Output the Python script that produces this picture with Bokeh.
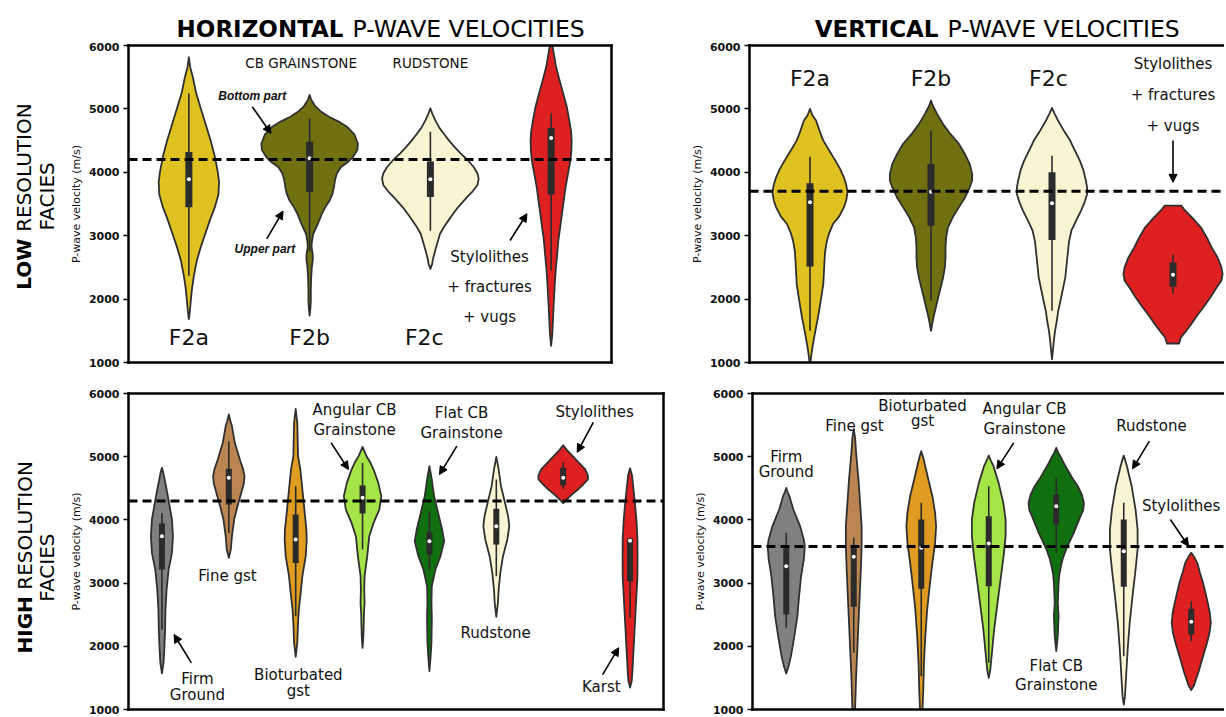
import math
from bokeh.plotting import figure
from bokeh.models import Range1d, LinearAxis, FixedTicker, Span, Label, Arrow, NormalHead
from bokeh.layouts import column, row
from bokeh.embed import file_html
from bokeh.resources import INLINE
from bokeh.core.properties import value

# ------------------------------------------------------------------ data
Y_TICKS = [1000, 2000, 3000, 4000, 5000, 6000]
Y_LABEL = "P-wave velocity (m/s)"

# Horizontal velocities, low-resolution facies
HL_CATS = ["F2a", "F2b", "F2c", "Stylolithes + fractures + vugs"]
HL_COLORS = ["#DFC120", "#707010", "#F9F5D3", "#DF2020"]
HL_SHAPES = [
    [(5815, 0), (5650, 0.012), (5500, 0.033), (5250, 0.06), (5000, 0.10), (4750, 0.14), (4500, 0.18),
     (4250, 0.215), (4000, 0.24), (3850, 0.25), (3650, 0.245), (3450, 0.215), (3250, 0.175), (3000, 0.13),
     (2800, 0.095), (2600, 0.065), (2350, 0.04), (2150, 0.025), (1950, 0.015), (1800, 0.008), (1685, 0)],
    [(5220, 0), (5150, 0.012), (5035, 0.05), (4950, 0.10), (4877, 0.16), (4800, 0.24), (4718, 0.31),
     (4600, 0.37), (4450, 0.40), (4350, 0.395), (4244, 0.36), (4150, 0.31), (4085, 0.26), (3980, 0.225),
     (3874, 0.21), (3750, 0.20), (3663, 0.19), (3550, 0.165), (3452, 0.13), (3340, 0.10), (3242, 0.08),
     (3130, 0.055), (3030, 0.03), (2900, 0.018), (2820, 0.016), (2700, 0.026), (2610, 0.026), (2500, 0.018),
     (2345, 0.013), (2150, 0.01), (1976, 0.01), (1850, 0.006), (1740, 0)],
    [(5008, 0), (4930, 0.015), (4824, 0.04), (4700, 0.075), (4613, 0.11), (4500, 0.155), (4400, 0.20),
     (4300, 0.25), (4190, 0.31), (4080, 0.36), (3980, 0.39), (3900, 0.40), (3800, 0.39), (3700, 0.35),
     (3600, 0.30), (3452, 0.23), (3350, 0.19), (3242, 0.15), (3130, 0.11), (3030, 0.08), (2900, 0.06),
     (2767, 0.04), (2620, 0.02), (2555, 0.015), (2477, 0)],
    [(6100, 0), (5900, 0.02), (5668, 0.04), (5450, 0.07), (5245, 0.10), (5030, 0.13), (4824, 0.15),
     (4650, 0.165), (4507, 0.17), (4350, 0.168), (4190, 0.16), (3980, 0.14), (3770, 0.12), (3560, 0.105),
     (3347, 0.09), (3130, 0.075), (2925, 0.06), (2700, 0.05), (2503, 0.04), (2290, 0.032), (2081, 0.026),
     (1870, 0.02), (1660, 0.015), (1450, 0.01), (1263, 0)],
]
HL_WLO = [2370, 2750, 3080, 2450]
HL_Q1 = [3450, 3690, 3610, 3650]
HL_MED = [3890, 4220, 3890, 4540]
HL_Q3 = [4320, 4480, 4170, 4700]
HL_WHI = [5245, 4850, 4640, 4930]
HL_MEAN = 4200

# Vertical velocities, low-resolution facies
VL_CATS = ["F2a", "F2b", "F2c", "Stylolithes + fractures + vugs"]
VL_COLORS = ["#DFC120", "#707010", "#F9F5D3", "#DF2020"]
VL_SHAPES = [
    [(5000, 0), (4900, 0.02), (4816, 0.05), (4650, 0.08), (4500, 0.11), (4340, 0.16), (4184, 0.21),
     (4050, 0.25), (3921, 0.28), (3800, 0.30), (3684, 0.31), (3560, 0.30), (3447, 0.28), (3300, 0.24),
     (3184, 0.19), (3050, 0.16), (2921, 0.14), (2750, 0.125), (2605, 0.12), (2420, 0.115), (2237, 0.11),
     (2050, 0.095), (1868, 0.08), (1700, 0.065), (1553, 0.05), (1400, 0.035), (1237, 0.02), (1100, 0.01),
     (950, 0)],
    [(5132, 0), (5050, 0.015), (4921, 0.05), (4760, 0.10), (4605, 0.16), (4450, 0.23), (4289, 0.28),
     (4130, 0.32), (3974, 0.34), (3870, 0.34), (3763, 0.32), (3600, 0.28), (3447, 0.23), (3290, 0.18),
     (3132, 0.14), (2970, 0.125), (2816, 0.12), (2650, 0.12), (2500, 0.115), (2340, 0.10), (2184, 0.08),
     (2030, 0.06), (1868, 0.04), (1750, 0.025), (1658, 0.015), (1500, 0)],
    [(5016, 0), (4930, 0.02), (4816, 0.05), (4650, 0.10), (4500, 0.15), (4340, 0.19), (4184, 0.23),
     (4030, 0.26), (3868, 0.28), (3760, 0.29), (3658, 0.29), (3530, 0.27), (3395, 0.24), (3240, 0.20),
     (3079, 0.16), (2900, 0.14), (2711, 0.13), (2530, 0.12), (2342, 0.11), (2160, 0.09), (1974, 0.07),
     (1800, 0.05), (1658, 0.04), (1500, 0.025), (1342, 0.015), (1200, 0.008), (1053, 0)],
    [(3474, 0.07), (3420, 0.09), (3342, 0.13), (3240, 0.18), (3132, 0.23), (2970, 0.28), (2816, 0.32),
     (2650, 0.37), (2500, 0.40), (2395, 0.41), (2290, 0.40), (2184, 0.36), (2030, 0.31), (1868, 0.25),
     (1740, 0.20), (1605, 0.15), (1500, 0.11), (1395, 0.065), (1300, 0.05)],
]
VL_WLO = [1500, 1974, 1816, 2079]
VL_Q1 = [2516, 3158, 2932, 2195]
VL_MED = [3526, 3695, 3510, 2384]
VL_Q3 = [3826, 4132, 4000, 2579]
VL_WHI = [4247, 4658, 4263, 2700]
VL_MEAN = 3700

# Horizontal velocities, high-resolution facies
HH_CATS = ["Firm Ground", "Fine gst", "Bioturbated gst", "Angular CB Grainstone",
           "Flat CB Grainstone", "Rudstone", "Stylolithes", "Karst"]
HH_COLORS = ["#808080", "#BB8551", "#DF9C20", "#A5E446", "#107010", "#F9F5D3", "#DF2020", "#DF2020"]
HH_SHAPES = [
    [(4824, 0), (4750, 0.02), (4692, 0.03), (4481, 0.07), (4270, 0.106), (4006, 0.15), (3742, 0.165),
     (3479, 0.15), (3215, 0.10), (2899, 0.07), (2582, 0.053), (2266, 0.047), (1949, 0.035), (1738, 0.024),
     (1570, 0)],
    [(5668, 0), (5560, 0.025), (5485, 0.047), (5220, 0.09), (4956, 0.165), (4800, 0.215), (4692, 0.235),
     (4581, 0.225), (4481, 0.20), (4217, 0.13), (4006, 0.08), (3742, 0.047), (3532, 0.03), (3400, 0)],
    [(5757, 0), (5536, 0.024), (5008, 0.035), (4797, 0.07), (4481, 0.10), (4164, 0.13), (3848, 0.16),
     (3690, 0.165), (3426, 0.15), (3110, 0.10), (2793, 0.07), (2582, 0.047), (2371, 0.035), (2055, 0.024),
     (1833, 0)],
    [(5156, 0), (5080, 0.03), (5008, 0.06), (4900, 0.12), (4797, 0.165), (4586, 0.235), (4375, 0.28),
     (4164, 0.25), (3953, 0.165), (3742, 0.10), (3426, 0.07), (3110, 0.03), (2900, 0.025), (2687, 0.03),
     (2500, 0.02), (2371, 0.018), (2150, 0.012), (1976, 0)],
    [(4850, 0), (4639, 0.035), (4375, 0.07), (4111, 0.13), (3848, 0.19), (3663, 0.22), (3426, 0.165),
     (3215, 0.09), (2951, 0.035), (2687, 0.03), (2500, 0.035), (2371, 0.035), (2055, 0.03), (1844, 0.018),
     (1606, 0)],
    [(4998, 0), (4797, 0.035), (4533, 0.07), (4270, 0.13), (4059, 0.176), (3901, 0.194), (3690, 0.165),
     (3426, 0.10), (3162, 0.06), (2899, 0.035), (2687, 0.024), (2466, 0)],
    [(5180, 0), (5100, 0.06), (5000, 0.15), (4900, 0.24), (4800, 0.33), (4700, 0.37), (4640, 0.37),
     (4560, 0.30), (4480, 0.22), (4400, 0.13), (4320, 0.05), (4265, 0)],
    [(4817, 0), (4700, 0.03), (4596, 0.04), (4300, 0.07), (4000, 0.095), (3700, 0.11), (3400, 0.112),
     (3100, 0.11), (2800, 0.095), (2500, 0.08), (2200, 0.065), (1900, 0.05), (1600, 0.035), (1450, 0.025),
     (1347, 0)],
]
HH_WLO = [2266, 3795, 2477, 3532, 3215, 3110, 4491, 2451]
HH_Q1 = [3215, 4244, 3320, 4101, 3453, 3610, 4544, 3024]
HH_MED = [3742, 4666, 3690, 4349, 3663, 3901, 4666, 3670]
HH_Q3 = [3943, 4808, 4085, 4544, 3806, 4175, 4824, 3710]
HH_WHI = [4111, 5246, 4533, 4900, 4138, 4639, 4914, 3720]
HH_MEAN = 4300

# Vertical velocities, high-resolution facies
VH_CATS = ["Firm Ground", "Fine gst", "Bioturbated gst", "Angular CB Grainstone",
           "Flat CB Grainstone", "Rudstone", "Stylolithes"]
VH_COLORS = ["#808080", "#BB8551", "#DF9C20", "#A5E446", "#107010", "#F9F5D3", "#DF2020"]
VH_SHAPES = [
    [(4507, 0), (4440, 0.02), (4375, 0.047), (4164, 0.105), (3901, 0.205), (3690, 0.26), (3584, 0.275),
     (3373, 0.26), (3110, 0.22), (2793, 0.19), (2477, 0.165), (2160, 0.12), (1844, 0.07), (1686, 0.035),
     (1570, 0)],
    [(5441, 0), (5300, 0.02), (5061, 0.035), (4639, 0.07), (4270, 0.094), (3901, 0.117), (3584, 0.117),
     (3215, 0.105), (2793, 0.088), (2371, 0.07), (1949, 0.053), (1527, 0.035), (1105, 0.023), (900, 0.015)],
    [(5087, 0), (5000, 0.025), (4903, 0.047), (4639, 0.105), (4375, 0.165), (4111, 0.205), (3901, 0.22),
     (3637, 0.205), (3321, 0.165), (3004, 0.13), (2582, 0.088), (2160, 0.06), (1738, 0.04), (1316, 0.03),
     (900, 0.015)],
    [(5018, 0), (4930, 0.035), (4850, 0.07), (4586, 0.146), (4270, 0.216), (4006, 0.25), (3742, 0.25),
     (3426, 0.22), (3057, 0.175), (2687, 0.13), (2266, 0.08), (1896, 0.047), (1633, 0.023), (1500, 0)],
    [(5140, 0), (5060, 0.03), (5008, 0.06), (4900, 0.11), (4797, 0.165), (4660, 0.24), (4533, 0.32),
     (4400, 0.38), (4270, 0.41), (4160, 0.40), (4059, 0.36), (3930, 0.31), (3795, 0.26), (3660, 0.20),
     (3532, 0.146), (3400, 0.10), (3268, 0.07), (3130, 0.045), (3004, 0.035), (2687, 0.023), (2477, 0.035),
     (2350, 0.03), (2160, 0.023), (1923, 0)],
    [(5018, 0), (4930, 0.025), (4850, 0.047), (4533, 0.117), (4164, 0.175), (3848, 0.205), (3532, 0.205),
     (3215, 0.175), (2793, 0.13), (2371, 0.088), (1949, 0.058), (1527, 0.035), (1211, 0.018), (1079, 0)],
    [(3479, 0), (3420, 0.04), (3321, 0.088), (3160, 0.13), (3004, 0.175), (2850, 0.21), (2687, 0.245),
     (2530, 0.275), (2371, 0.29), (2210, 0.27), (2055, 0.234), (1900, 0.19), (1738, 0.146), (1600, 0.11),
     (1475, 0.07), (1380, 0.04), (1306, 0)],
]
VH_WLO = [2292, 1896, 1527, 1738, 3479, 1844, 2081]
VH_Q1 = [2503, 2624, 2909, 2951, 3927, 2941, 2186]
VH_MED = [3268, 3416, 3558, 3626, 4217, 3505, 2387]
VH_Q3 = [3558, 3558, 4006, 4059, 4401, 4006, 2593]
VH_WHI = [3795, 3716, 4270, 4533, 4665, 4270, 2713]
VH_MEAN = 3580

# ------------------------------------------------------------------ annotations (positions in data units)
DV = "DejaVu Sans"
LS = "Liberation Sans"
HL_NOTES = [("CB GRAINSTONE", 0.93, 5720, "13.5px", DV, "normal"),
            ("RUDSTONE", 2.0, 5720, "13.5px", DV, "normal"),
            ("Bottom part", 0.525, 5209, "12px", LS, "bold italic"),
            ("Upper part", 0.63, 2793, "12px", LS, "bold italic"),
            ("Stylolithes", 2.49, 2661, "15px", DV, "normal"),
            ("+ fractures", 2.49, 2187, "15px", DV, "normal"),
            ("+ vugs", 2.49, 1712, "15px", DV, "normal"),
            ("F2a", 0.0, 1396, "22px", DV, "normal"),
            ("F2b", 1.0, 1396, "22px", DV, "normal"),
            ("F2c", 1.95, 1396, "22px", DV, "normal")]
HL_ARROWS = [(0.525, 5035, 0.68, 4613), (0.645, 2951, 0.78, 3389), (2.66, 2925, 2.8, 3347)]

VL_NOTES = [("F2a", 0.0, 5474, "22px", DV, "normal"),
            ("F2b", 1.0, 5474, "22px", DV, "normal"),
            ("F2c", 1.97, 5474, "22px", DV, "normal"),
            ("Stylolithes", 3.0, 5710, "15px", DV, "normal"),
            ("+ fractures", 3.0, 5226, "15px", DV, "normal"),
            ("+ vugs", 3.0, 4737, "15px", DV, "normal")]
VL_ARROWS = [(3.0, 4500, 3.0, 3842)]

HH_NOTES = [("Firm", 0.53, 1475), ("Ground", 0.53, 1237), ("Fine gst", 0.98, 3120),
            ("Bioturbated", 2.04, 1553), ("gst", 2.04, 1290), ("Angular CB", 2.88, 5736),
            ("Grainstone", 2.88, 5430), ("Flat CB", 4.48, 5694), ("Grainstone", 4.48, 5378),
            ("Rudstone", 4.99, 2213), ("Stylolithes", 6.47, 5700), ("Karst", 6.57, 1363)]
HH_ARROWS = [(0.44, 1738, 0.18, 2187), (2.53, 5219, 2.79, 4797), (4.41, 5167, 4.15, 4718),
             (6.45, 5543, 6.21, 5069), (6.59, 1552, 6.83, 1978)]

VH_NOTES = [("Firm", 0.0, 4998), ("Ground", 0.0, 4755), ("Fine gst", 1.01, 5483),
            ("Bioturbated", 2.02, 5810), ("gst", 2.02, 5562), ("Angular CB", 3.53, 5747),
            ("Grainstone", 3.53, 5441), ("Flat CB", 4.0, 1696), ("Grainstone", 4.0, 1395),
            ("Rudstone", 5.41, 5483), ("Stylolithes", 5.85, 4217)]
VH_ARROWS = [(3.37, 5219, 3.12, 4808), (5.38, 5246, 5.13, 4808), (5.69, 4006, 5.96, 3584)]

# titles / row labels (page pixel positions inside their own strip figures)
TITLE_PARTS = [("HORIZONTAL", "bold", "right", 343, "23px"),
               ("P-WAVE VELOCITIES", "normal", "left", 352, "23.5px"),
               ("VERTICAL", "bold", "right", 938, "23px"),
               ("P-WAVE VELOCITIES", "normal", "left", 947, "23.5px")]
ROW1_PARTS = [("LOW", "bold", "right", 23, 243), ("RESOLUTION", "normal", "left", 23, 236),
              ("FACIES", "normal", "center", 46, 199)]
ROW2_PARTS = [("HIGH", "bold", "right", 24, 592), ("RESOLUTION", "normal", "left", 24, 585),
              ("FACIES", "normal", "center", 46, 561)]

EDGE = "#303030"
BOXC = "#2b2b2b"


# ------------------------------------------------------------------ helpers
def blank_axis(ax):
    ax.ticker = FixedTicker(ticks=[])
    ax.major_label_text_font_size = "0px"
    ax.major_label_standoff = 0
    ax.major_tick_out = 0
    ax.major_tick_in = 0
    ax.minor_tick_out = 0
    ax.minor_tick_in = 0
    ax.axis_line_width = 2.5
    ax.axis_line_color = "black"
    ax.axis_line_cap = "square"


def make_panel(width, height, x_end, mb_l, mb_r, mb_t, mb_b, closed_right):
    p = figure(width=width, height=height, x_range=Range1d(-0.5, x_end), y_range=Range1d(1000, 6000),
               output_backend="svg", toolbar_location=None,
               min_border_left=mb_l, min_border_right=mb_r, min_border_top=mb_t, min_border_bottom=mb_b,
               outline_line_color=None, background_fill_color="white", border_fill_color="white")
    p.xgrid.visible = False
    p.ygrid.visible = False
    blank_axis(p.xaxis[0])
    top = LinearAxis()
    blank_axis(top)
    p.add_layout(top, "above")
    if closed_right:
        right = LinearAxis()
        blank_axis(right)
        p.add_layout(right, "right")
    ya = p.yaxis[0]
    ya.ticker = FixedTicker(ticks=Y_TICKS)
    ya.minor_tick_out = 0
    ya.minor_tick_in = 0
    ya.major_tick_out = 5
    ya.major_tick_in = 0
    ya.major_tick_line_width = 1.5
    ya.major_label_text_font = DV
    ya.major_label_text_font_style = "bold"
    ya.major_label_text_font_size = "11px"
    ya.major_label_text_color = "#111111"
    ya.major_label_standoff = 4
    ya.axis_label = Y_LABEL
    ya.axis_label_text_font = DV
    ya.axis_label_text_font_size = "11px"
    ya.axis_label_text_font_style = "normal"
    ya.axis_label_text_color = "#111111"
    ya.axis_label_standoff = 3
    ya.axis_line_width = 2.5
    ya.axis_line_cap = "square"
    return p


def strip(width, x0, y_top, y_bottom):
    s = figure(width=width, height=y_bottom - y_top, x_range=Range1d(x0, x0 + width),
               y_range=Range1d(y_bottom, y_top), x_axis_type=None, y_axis_type=None,
               output_backend="svg", toolbar_location=None, min_border=0,
               outline_line_color=None, background_fill_color="white", border_fill_color="white")
    s.xgrid.visible = False
    s.ygrid.visible = False
    return s


def draw_violins(p, shapes, colors, wlo, q1, med, q3, whi, box_w, mean):
    xs, ys = [], []
    for i, shape in enumerate(shapes):
        v = [s[0] for s in shape]
        w = [s[1] for s in shape]
        xs.append([i + a for a in w] + [i - a for a in w[::-1]])
        ys.append(v + v[::-1])
    p.patches(xs=xs, ys=ys, fill_color=colors, line_color=EDGE, line_width=1.8, line_join="round")
    idx = list(range(len(shapes)))
    p.segment(x0=idx, y0=wlo, x1=idx, y1=whi, line_color=BOXC, line_width=1.6)
    p.segment(x0=idx, y0=q1, x1=idx, y1=q3, line_color=BOXC, line_width=box_w)
    p.scatter(x=idx, y=med, size=4, fill_color="white", line_color=None)
    p.add_layout(Span(location=mean, dimension="width", line_color="black", line_width=3,
                      line_dash="9 5"))


def add_notes(p, notes, default_size="15px"):
    for n in notes:
        if len(n) == 3:
            txt, x, y = n
            size, font, style = default_size, DV, "normal"
        else:
            txt, x, y, size, font, style = n
        p.add_layout(Label(x=x, y=y, text=txt, text_font=font, text_font_size=size,
                           text_font_style=style, text_align="center", text_baseline="middle",
                           text_color="#111111"))


def add_arrows(p, arrows):
    for (x0, y0, x1, y1) in arrows:
        p.add_layout(Arrow(x_start=x0, y_start=y0, x_end=x1, y_end=y1, line_width=1.6, line_color="black",
                           end=NormalHead(size=8, fill_color="black", line_color="black", line_width=1)))


# ------------------------------------------------------------------ layout pieces
H_HEAD = 42
ROW1_TOP, ROW1_H = 42, 330
ROW2_TOP, ROW2_H = 372, 343
LEFT_W = 62

header = strip(1224, 0, 0, H_HEAD)
for txt, style, align, x, size in TITLE_PARTS:
    header.text(x=[x], y=[28], text=[txt], text_font=value(DV), text_font_size=size,
                text_font_style=style, text_align=align, text_baseline="alphabetic", text_color="black")

lab1 = strip(LEFT_W, 0, ROW1_TOP, ROW1_TOP + ROW1_H)
for txt, style, align, x, y in ROW1_PARTS:
    lab1.text(x=[x], y=[y], text=[txt], text_font=value(DV), text_font_size="20px", text_font_style=style,
              text_align=align, text_baseline="middle", angle=math.pi / 2, text_color="black")

lab2 = strip(LEFT_W, 0, ROW2_TOP, ROW2_TOP + ROW2_H)
for txt, style, align, x, y in ROW2_PARTS:
    lab2.text(x=[x], y=[y], text=[txt], text_font=value(DV), text_font_size="20px", text_font_style=style,
              text_align=align, text_baseline="middle", angle=math.pi / 2, text_color="black")

# row 1: frames y 45..362 ; p1 frame x 128..611 ; p2 frame x 749..1224
p1 = make_panel(586, ROW1_H, 3.5, 66, 37, 3, 10, True)
draw_violins(p1, HL_SHAPES, HL_COLORS, HL_WLO, HL_Q1, HL_MED, HL_Q3, HL_WHI, 7, HL_MEAN)
add_notes(p1, HL_NOTES)
add_arrows(p1, HL_ARROWS)

p2 = make_panel(576, ROW1_H, -0.5 + 475 / 121.0, 101, 0, 3, 10, False)
draw_violins(p2, VL_SHAPES, VL_COLORS, VL_WLO, VL_Q1, VL_MED, VL_Q3, VL_WHI, 7, VL_MEAN)
add_notes(p2, VL_NOTES)
add_arrows(p2, VL_ARROWS)

# row 2: frames y 393..709 ; p3 frame x 128..663 ; p4 frame x 752..1224
p3 = make_panel(626, ROW2_H, 7.5, 66, 25, 21, 6, True)
draw_violins(p3, HH_SHAPES, HH_COLORS, HH_WLO, HH_Q1, HH_MED, HH_Q3, HH_WHI, 6, HH_MEAN)
add_notes(p3, HH_NOTES)
add_arrows(p3, HH_ARROWS)

p4 = make_panel(536, ROW2_H, -0.5 + 472 / 67.5, 64, 0, 21, 6, False)
draw_violins(p4, VH_SHAPES, VH_COLORS, VH_WLO, VH_Q1, VH_MED, VH_Q3, VH_WHI, 6, VH_MEAN)
add_notes(p4, VH_NOTES)
add_arrows(p4, VH_ARROWS)

layout = column(header, row(lab1, p1, p2), row(lab2, p3, p4))
open("out.html", "w").write(file_html(layout, INLINE))
